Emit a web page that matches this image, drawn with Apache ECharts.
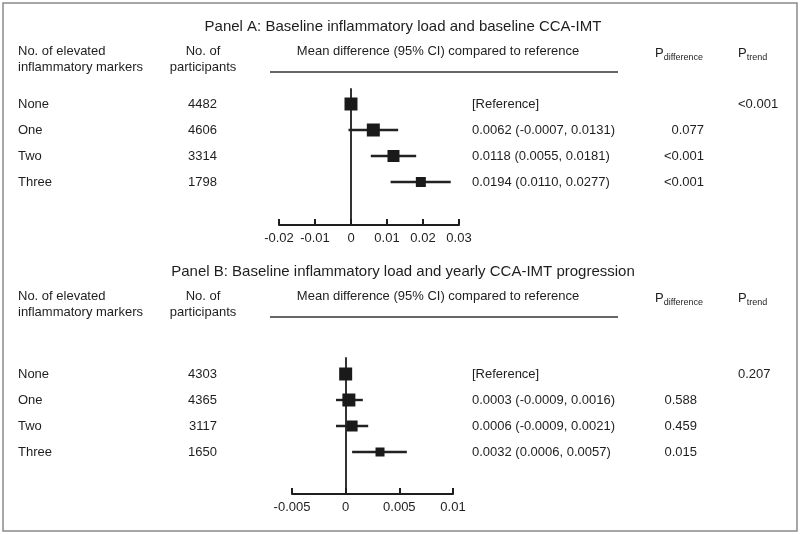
<!DOCTYPE html>
<html>
<head>
<meta charset="utf-8">
<script src="https://cdn.jsdelivr.net/npm/echarts@6/dist/echarts.min.js"></script>
<style>html,body{margin:0;padding:0;background:#fff}#c{width:800px;height:534px}</style>
</head>
<body>
<div id="c"></div>
<script>
// ---- Data ----
const categories = ['None', 'One', 'Two', 'Three'];

const titleA = 'Panel A: Baseline inflammatory load and baseline CCA-IMT';
const nA = [4482, 4606, 3314, 1798];
const estA = [0, 0.0062, 0.0118, 0.0194];
const lowA = [null, -0.0007, 0.0055, 0.0110];
const highA = [null, 0.0131, 0.0181, 0.0277];
const ciTextA = ['[Reference]', '0.0062 (-0.0007, 0.0131)', '0.0118 (0.0055, 0.0181)', '0.0194 (0.0110, 0.0277)'];
const pDiffA = ['', '0.077', '<0.001', '<0.001'];
const pTrendA = '<0.001';
const ticksA = [-0.02, -0.01, 0, 0.01, 0.02, 0.03];

const titleB = 'Panel B: Baseline inflammatory load and yearly CCA-IMT progression';
const nB = [4303, 4365, 3117, 1650];
const estB = [0, 0.0003, 0.0006, 0.0032];
const lowB = [null, -0.0009, -0.0009, 0.0006];
const highB = [null, 0.0016, 0.0021, 0.0057];
const ciTextB = ['[Reference]', '0.0003 (-0.0009, 0.0016)', '0.0006 (-0.0009, 0.0021)', '0.0032 (0.0006, 0.0057)'];
const pDiffB = ['', '0.588', '0.459', '0.015'];
const pTrendB = '0.207';
const ticksB = [-0.005, 0, 0.005, 0.01];

// marker sizes (style, proportional to weight)
const markerSizeA = [13, 13, 12, 10];
const markerSizeB = [13, 13, 11, 9];

// ---- Styles ----
const FONT = '"Liberation Sans", Arial, Helvetica, sans-serif';
const TXT = '#1e1e1e';
const FS = 13;

const chart = echarts.init(document.getElementById('c'), null, {renderer: 'canvas'});

function xAxisFor(idx, ticks) {
  const step = ticks[1] - ticks[0];
  return {
    type: 'value', gridIndex: idx, position: 'bottom',
    min: ticks[0], max: ticks[ticks.length - 1], interval: step,
    axisLine: {onZero: false, lineStyle: {color: '#1e1e1e', width: 2}},
    axisTick: {inside: true, length: 6, lineStyle: {color: '#1e1e1e', width: 2}},
    axisLabel: {color: TXT, fontFamily: FONT, fontSize: FS, margin: 7,
      formatter: v => { const t = ticks.find(k => Math.abs(k - v) < step / 100); return t === undefined ? '' : String(t); }},
    splitLine: {show: false}
  };
}
function yAxisFor(idx, min, max) {
  return {
    type: 'value', gridIndex: idx, inverse: true, min: min, max: max,
    axisLine: {show: true, onZero: true, lineStyle: {color: '#333', width: 2}},
    axisTick: {show: false}, axisLabel: {show: false}, splitLine: {show: false}
  };
}
function ciData(low, high) {
  const out = [];
  low.forEach((l, i) => { if (l !== null) out.push([l, high[i], i]); });
  return out;
}
function ciSeries(idx, low, high) {
  return {
    type: 'custom', xAxisIndex: idx, yAxisIndex: idx, z: 2,
    data: ciData(low, high),
    encode: {x: [0, 1], y: 2},
    renderItem: (params, api) => {
      const a = api.coord([api.value(0), api.value(2)]);
      const b = api.coord([api.value(1), api.value(2)]);
      return {type: 'line', shape: {x1: a[0], y1: a[1], x2: b[0], y2: b[1]},
        style: {stroke: '#222', lineWidth: 2.4}};
    }
  };
}
function ptSeries(idx, est, sizes) {
  return {
    type: 'scatter', xAxisIndex: idx, yAxisIndex: idx, z: 3,
    symbol: 'rect',
    data: est.map((v, i) => ({value: [v, i], symbolSize: sizes[i]})),
    itemStyle: {color: '#1a1a1a', opacity: 1},
    emphasis: {disabled: true}, silent: true
  };
}

const option = {
  animation: false,
  backgroundColor: '#fff',
  grid: [
    {left: 279, right: 800 - 459, top: 89, height: 136, outerBoundsMode: 'none', containLabel: false},
    {left: 292, right: 800 - 453, top: 358, height: 136, outerBoundsMode: 'none', containLabel: false}
  ],
  xAxis: [xAxisFor(0, ticksA), xAxisFor(1, ticksB)],
  yAxis: [yAxisFor(0, -15 / 26, 3 + 43 / 26), yAxisFor(1, -16 / 26, 3 + 42 / 26)],
  series: [
    ciSeries(0, lowA, highA), ptSeries(0, estA, markerSizeA),
    ciSeries(1, lowB, highB), ptSeries(1, estB, markerSizeB)
  ]
};
chart.setOption(option);

// ---- Table texts ----
function txt(x, y, s, align, size) {
  return {type: 'text', x: x, y: y, silent: true,
    style: {text: s, fill: TXT, font: (size || FS) + 'px ' + FONT, align: align || 'left', verticalAlign: 'middle'}};
}
function pLabel(x, y, sub) {
  return {type: 'text', x: x, y: y, silent: true,
    style: {text: '{p|P}{s|' + sub + '}', fill: TXT, verticalAlign: 'middle', align: 'left',
      rich: {p: {fontSize: 13, fontFamily: FONT, fill: TXT, verticalAlign: 'bottom'},
             s: {fontSize: 9, fontFamily: FONT, fill: TXT, verticalAlign: 'bottom', padding: [0, 0, -3, 0]}}}};
}
function panel(gi, title, titleY, hY, n, ciText, pDiff, pTrend, pDiffX) {
  const els = [];
  els.push(txt(403, titleY, title, 'center', 15));
  els.push(txt(18, hY, 'No. of elevated'));
  els.push(txt(18, hY + 16, 'inflammatory markers'));
  els.push(txt(203, hY, 'No. of', 'center'));
  els.push(txt(203, hY + 16, 'participants', 'center'));
  els.push(txt(438, hY, 'Mean difference (95% CI) compared to reference', 'center'));
  els.push({type: 'line', silent: true, shape: {x1: 270, y1: hY + 21, x2: 618, y2: hY + 21},
    style: {stroke: '#333', lineWidth: 1.5}});
  els.push(pLabel(655, hY + 2, 'difference'));
  els.push(pLabel(738, hY + 2, 'trend'));
  categories.forEach((c, i) => {
    const y = chart.convertToPixel({gridIndex: gi}, [0, i])[1];
    els.push(txt(18, y, c));
    els.push(txt(217, y, String(n[i]), 'right'));
    els.push(txt(472, y, ciText[i]));
    if (pDiff[i]) els.push(txt(pDiffX, y, pDiff[i], 'right'));
    if (i === 0) els.push(txt(738, y, pTrend));
  });
  return els;
}
const graphics = [].concat(
  [{type: 'rect', silent: true, shape: {x: 3, y: 3, width: 794, height: 528},
    style: {fill: 'none', stroke: '#8a8a8a', lineWidth: 1.5}}],
  panel(0, titleA, 27, 51, nA, ciTextA, pDiffA, pTrendA, 704),
  panel(1, titleB, 272, 296, nB, ciTextB, pDiffB, pTrendB, 697)
);
chart.setOption({graphic: graphics});
</script>
</body>
</html>
